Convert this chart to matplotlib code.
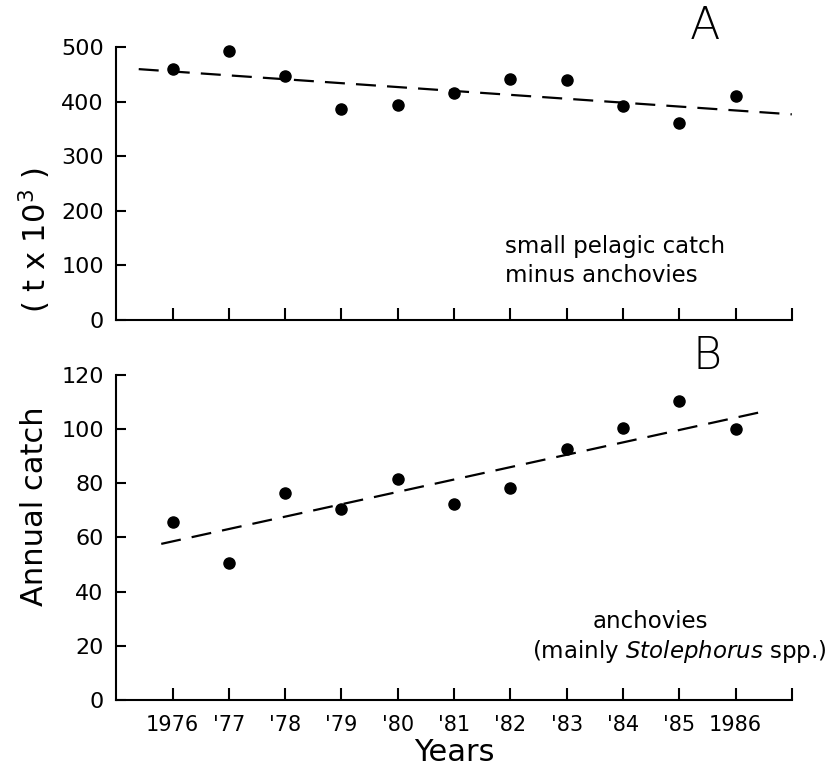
import matplotlib.pyplot as plt
import numpy as np

# Data
years = [1976, 1977, 1978, 1979, 1980, 1981, 1982, 1983, 1984, 1985, 1986]
other_pelagic = [460, 493, 447, 386, 395, 417, 441, 440, 392, 362, 410]
anchovies = [65.7, 50.6, 76.4, 70.5, 81.6, 72.4, 78.3, 92.7, 100.4, 110.4, 100.1]
tick_years = [1976, 1977, 1978, 1979, 1980, 1981, 1982, 1983, 1984, 1985, 1986, 1987]
tick_labels = ['1976', "'77", "'78", "'79", "'80", "'81", "'82", "'83", "'84", "'85", '1986', '']

# Trend lines (end points)
trend_a_x = [1975.4, 1987.0]
trend_a_y = [460, 377]
trend_b_x = [1975.8, 1986.55]
trend_b_y = [57.6, 106.7]

plt.rcParams['font.family'] = 'DejaVu Sans'

fig = plt.figure(figsize=(8.3, 7.76), dpi=100)
ax1 = fig.add_axes([0.140, 0.588, 0.814, 0.351])
ax2 = fig.add_axes([0.140, 0.098, 0.814, 0.419])


def style(ax, ymax, ystep):
    ax.set_xlim(1975, 1987)
    ax.set_ylim(0, ymax)
    for s in ['top', 'right']:
        ax.spines[s].set_visible(False)
    for s in ['left', 'bottom']:
        ax.spines[s].set_linewidth(1.5)
    ax.set_xticks(tick_years)
    ax.set_yticks(np.arange(0, ymax + 1, ystep))
    ax.tick_params(axis='x', direction='in', length=8.5, width=1.5)
    ax.tick_params(axis='y', direction='in', length=7, width=1.5, labelsize=16, pad=9)


# Panel A
style(ax1, 500, 100)
ax1.set_xticklabels([])
ax1.plot(years, other_pelagic, 'o', color='black', ms=8, clip_on=False)
ax1.plot(trend_a_x, trend_a_y, '--', color='black', lw=1.6, dashes=(9, 5), clip_on=False)
ax1.text(1985.46, 538, 'A', fontsize=32, ha='center', va='center', fontweight='light')
ax1.text(1981.9, 134, 'small pelagic catch', fontsize=16.5, va='center')
ax1.text(1981.9, 82, 'minus anchovies', fontsize=16.5, va='center')

# Panel B
style(ax2, 120, 20)
ax2.set_xticklabels(tick_labels, fontsize=15)
ax2.tick_params(axis='x', pad=11)
ax2.plot(years, anchovies, 'o', color='black', ms=8, clip_on=False)
ax2.plot(trend_b_x, trend_b_y, '--', color='black', lw=1.6, dashes=(9, 5), clip_on=False)
ax2.text(1985.5, 126.7, 'B', fontsize=32, ha='center', va='center', fontweight='light')
ax2.text(1984.49, 28.8, 'anchovies', fontsize=16.5, ha='center', va='center')
ax2.text(1985.0, 17.7, '(mainly $\\it{Stolephorus}$ spp.)', fontsize=16.5, ha='center', va='center')
ax2.set_xlabel('Years', fontsize=22, labelpad=2)

# Shared y label, split in two pieces like the original
fig.text(0.042, 0.348, 'Annual catch', rotation=90, fontsize=22, ha='center', va='center')
fig.text(0.042, 0.69, '( t x 10$^3$ )', rotation=90, fontsize=22, ha='center', va='center')

fig.savefig('out.png', dpi=100)
